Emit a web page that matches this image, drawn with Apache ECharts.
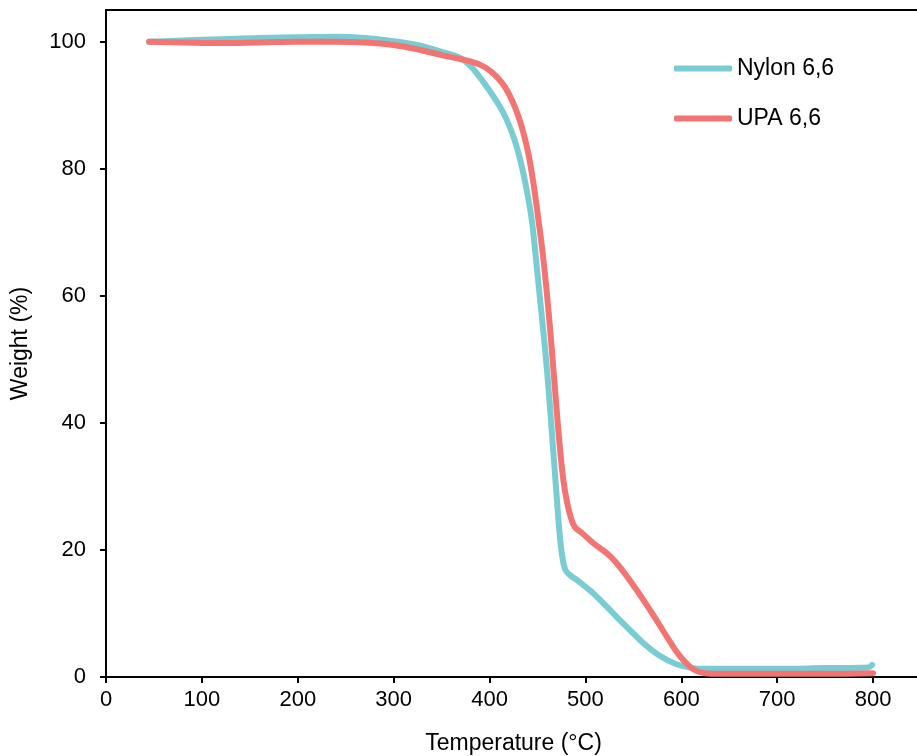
<!DOCTYPE html>
<html>
<head>
<meta charset="utf-8">
<script src="https://cdn.jsdelivr.net/npm/echarts@6/dist/echarts.min.js"></script>
<style>
  html, body { margin: 0; padding: 0; background: #fff; }
  #chart { width: 917px; height: 756px; }
</style>
</head>
<body>
<div id="chart"></div>
<script>
const seriesNames = ['Nylon 6,6', 'UPA 6,6']
const seriesColors = ['#79CCD2', '#F27573']

const nylonTemp = [45, 80, 120, 160, 200, 240, 270, 300, 328, 350, 369, 380, 390, 400, 410, 418, 426, 433, 439, 444, 448, 453, 458, 462, 466, 470, 473, 476, 479, 484, 491, 500, 508, 522, 533, 543, 560, 578, 595, 612, 625, 650, 700, 750, 795, 799]
const nylonWeight = [100.0, 100.2, 100.4, 100.6, 100.7, 100.8, 100.6, 100.1, 99.4, 98.4, 97.5, 96.2, 94.4, 92.3, 90.0, 87.7, 84.6, 80.8, 76.5, 72.0, 66.5, 59.0, 51.5, 44.5, 36.5, 28.5, 22.7, 18.8, 16.9, 16.0, 15.3, 14.2, 13.2, 11.1, 9.4, 7.9, 5.4, 3.3, 2.0, 1.4, 1.3, 1.3, 1.3, 1.4, 1.5, 1.9]

const upaTemp = [45, 80, 120, 160, 200, 240, 270, 300, 328, 350, 369, 380, 390, 400, 408, 416, 424, 430, 436, 441, 446, 451, 456, 461, 465, 469, 473, 477, 481, 485, 489, 497, 508, 526, 540, 552, 564, 576, 588, 598, 607, 615, 625, 640, 700, 750, 800]
const upaWeight = [100.0, 99.9, 99.8, 99.9, 100.0, 100.0, 99.9, 99.5, 98.7, 97.9, 97.3, 96.9, 96.4, 95.5, 94.4, 92.9, 90.6, 88.3, 85.3, 82.0, 77.5, 72.0, 66.0, 58.5, 51.5, 44.0, 36.8, 31.0, 27.4, 25.0, 23.6, 22.6, 21.1, 19.0, 16.5, 14.0, 11.3, 8.5, 5.6, 3.4, 1.9, 1.0, 0.6, 0.5, 0.5, 0.5, 0.6]

const xTitle = 'Temperature (°C)'
const yTitle = 'Weight (%)'

const zip = (xs, ys) => xs.map((x, i) => [x, ys[i]])

const font = 'Liberation Sans, Arial, sans-serif'

const chart = echarts.init(document.getElementById('chart'), null, { renderer: 'canvas' })

const makeSeries = (name, data, color) => ({
  name,
  type: 'line',
  data,
  showSymbol: false,
  symbol: 'none',
  smooth: 0.4,
  lineStyle: { color, width: 6, cap: 'round', join: 'round' },
  itemStyle: { color },
})

chart.setOption({
  animation: false,
  backgroundColor: '#fff',
  grid: {
    left: 106,
    right: -4,
    top: 10,
    bottom: 79,
    outerBoundsMode: 'none',
    containLabel: false,
    show: true,
    borderColor: '#000',
    borderWidth: 2,
  },
  legend: {
    orient: 'vertical',
    left: 669,
    top: 52,
    itemWidth: 58,
    itemHeight: 6,
    itemGap: 27,
    icon: 'roundRect',
    textStyle: { color: '#000', fontFamily: font, fontSize: 23 },
    data: seriesNames,
  },
  xAxis: {
    type: 'value',
    min: 0,
    max: 850,
    interval: 100,
    name: xTitle,
    nameLocation: 'middle',
    nameGap: 55,
    nameTextStyle: { color: '#000', fontFamily: font, fontSize: 23, verticalAlign: 'top' },
    axisLine: { lineStyle: { color: '#000', width: 2 } },
    axisTick: { show: true, length: 6, lineStyle: { color: '#000', width: 2 } },
    axisLabel: {
      color: '#000',
      fontFamily: font,
      fontSize: 22,
      margin: 12,
      showMaxLabel: false,
    },
    splitLine: { show: false },
  },
  yAxis: {
    type: 'value',
    min: 0,
    max: 105,
    interval: 20,
    name: yTitle,
    nameLocation: 'middle',
    nameGap: 74,
    nameRotate: 90,
    nameTextStyle: { color: '#000', fontFamily: font, fontSize: 23 },
    axisLine: { show: true, lineStyle: { color: '#000', width: 2 } },
    axisTick: { show: true, length: 6, lineStyle: { color: '#000', width: 2 } },
    axisLabel: {
      color: '#000',
      fontFamily: font,
      fontSize: 22,
      margin: 20,
      showMaxLabel: false,
    },
    splitLine: { show: false },
  },
  series: [
    makeSeries(seriesNames[0], zip(nylonTemp, nylonWeight), seriesColors[0]),
    makeSeries(seriesNames[1], zip(upaTemp, upaWeight), seriesColors[1]),
  ],
})
</script>
</body>
</html>
